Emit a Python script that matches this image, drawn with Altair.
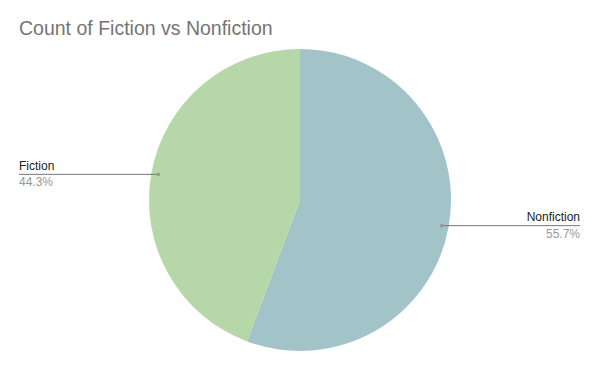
import altair as alt
import pandas as pd

categories = ["Nonfiction", "Fiction"]
values = [55.7, 44.3]
slice_order = [0, 1]
colors = ["#a2c4c9", "#b6d7a8"]

df = pd.DataFrame({"category": categories, "value": values, "ord": slice_order})

CX, CY, R, RL = 300, 200, 151, 144
LEFT_X, RIGHT_X = 19, 580
FONT = "Liberation Sans"

base = alt.Chart(df).transform_window(
    cum="sum(value)", sort=[alt.SortField("ord")], frame=[None, 0]
).transform_joinaggregate(
    total="sum(value)"
).transform_calculate(
    mid=f"(datum.cum - datum.value/2) / datum.total * 2 * PI",
).transform_calculate(
    ax=f"{CX} + {RL} * sin(datum.mid)",
    ay=f"{CY} - {RL} * cos(datum.mid)",
    side="sin(datum.mid) < 0 ? 'left' : 'right'",
    pct="format(datum.value / datum.total, '.1%')",
).transform_calculate(
    ex=f"datum.side == 'left' ? {LEFT_X} : {RIGHT_X}",
    nameY="datum.ay - 4.5",
    pctY="datum.ay + 12",
)

pie = alt.Chart(df).mark_arc(radius=R).encode(
    theta=alt.Theta("value:Q", stack=True),
    order=alt.Order("ord:Q"),
    color=alt.Color("category:N", scale=alt.Scale(domain=categories, range=colors), legend=None),
    x=alt.value(CX),
    y=alt.value(CY),
)

rules = base.mark_rule(color="#777777", strokeWidth=1).encode(
    x=alt.X("ax:Q", scale=None),
    x2="ex:Q",
    y=alt.Y("ay:Q", scale=None),
)

dots = base.mark_circle(size=14, color="#999999", opacity=1).encode(
    x=alt.X("ax:Q", scale=None),
    y=alt.Y("ay:Q", scale=None),
)

def labels(side, align):
    b = base.transform_filter(f"datum.side == '{side}'")
    names = b.mark_text(align=align, baseline="alphabetic", font=FONT, fontSize=12, color="#222222").encode(
        x=alt.X("ex:Q", scale=None),
        y=alt.Y("nameY:Q", scale=None),
        text="category:N",
    )
    pcts = b.mark_text(align=align, baseline="alphabetic", font=FONT, fontSize=12, color="#999999").encode(
        x=alt.X("ex:Q", scale=None),
        y=alt.Y("pctY:Q", scale=None),
        text="pct:N",
    )
    return names + pcts

title = alt.Chart(pd.DataFrame({"t": ["Count of Fiction vs Nonfiction"]})).mark_text(
    align="left", baseline="alphabetic", font=FONT, fontSize=19.5, color="#757575"
).encode(x=alt.value(19), y=alt.value(35), text="t:N")

chart = alt.layer(pie, rules, dots, labels("left", "left"), labels("right", "right"), title).properties(
    width=600, height=371, padding=0, autosize=alt.AutoSizeParams(type="none"), background="white"
).configure_view(stroke=None)

chart.save("out.html", embed_options={"renderer": "svg", "actions": False})
